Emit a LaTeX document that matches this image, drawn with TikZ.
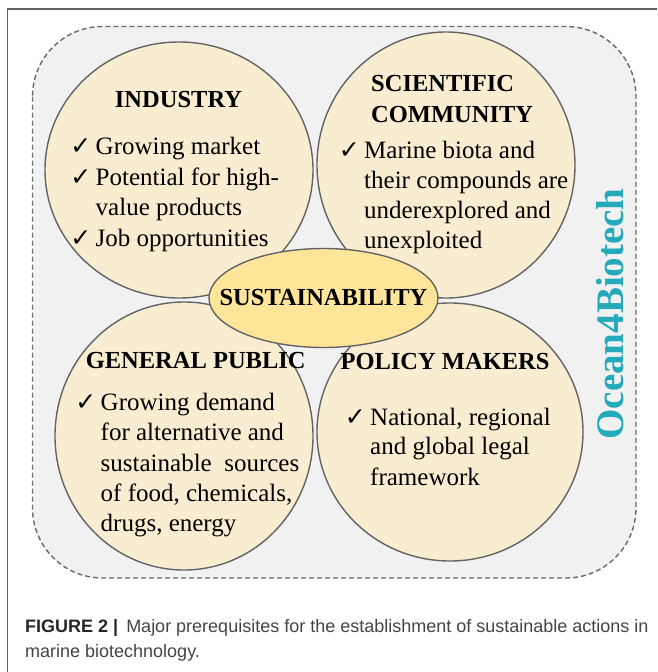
\documentclass[tikz,border=0pt]{standalone}
\usepackage{fontspec}
\setmainfont{Liberation Serif}
\newfontfamily\capfont{Liberation Sans}
\newfontfamily\tickfont{DejaVu Sans}
\usetikzlibrary{shapes.geometric}

\definecolor{cream}{RGB}{248,237,209}
\definecolor{gold}{RGB}{255,229,153}
\definecolor{edge}{RGB}{100,100,100}
\definecolor{panelfill}{RGB}{241,241,241}
\definecolor{paneldash}{RGB}{105,105,105}
\definecolor{oceanteal}{RGB}{36,170,186}
\definecolor{captext}{RGB}{68,68,68}

\tikzstyle{frame}=[draw=edge,line width=1.2pt]
\tikzstyle{panel}=[draw=paneldash,fill=panelfill,line width=1.4pt,
    dash pattern=on 5pt off 3pt,rounded corners=70pt]
\tikzstyle{party ellipse}=[ellipse,draw=edge,line width=1.4pt,
    fill=cream,inner sep=0pt]
\tikzstyle{core ellipse}=[party ellipse,fill=gold]
\tikzstyle{party title}=[font=\bfseries\fontsize{24.5}{30}\selectfont,
    inner sep=0pt,anchor=base]
\tikzstyle{party item}=[font=\fontsize{25}{30}\selectfont,
    inner sep=0pt,anchor=base west]
\tikzstyle{party tick}=[font=\tickfont\bfseries\fontsize{25}{25}\selectfont,
    inner sep=0pt,anchor=base east]
\tikzstyle{caption}=[font=\capfont\fontsize{18}{25}\selectfont,
    text=captext,inner sep=0pt,anchor=base west]

\newcommand{\party}[4]{
    \node[party ellipse,minimum width=#3pt,minimum height=#4pt] (#2) at (#1) {};
}
\newcommand{\tickitem}[3]{
    \node[party item] (#2) at (#1) {#3};
    \node[party tick] (#2-tick) at ([xshift=-4pt]#2.base west) {✓};
}

\begin{document}
\begin{tikzpicture}[x=1pt,y=-1pt]
    \useasboundingbox (0,0) rectangle (657,672);
    \draw[frame] (7.5,672) -- (7.5,9) -- (657,9);
    \draw[panel] (32.5,26.5) rectangle (636,578);
    %
    \party{179,170}{industry}{268}{256}
    \party{446,165}{science}{258}{266}
    \party{184,436}{public}{258}{268}
    \party{450,432}{policy}{266}{258}
    \node[core ellipse,minimum width=229pt,minimum height=99pt]
        (sustain) at (323.5,298) {};
    \node[party title,anchor=center] (sustain title) at (sustain.center) {SUSTAINABILITY};
    %
    \node[party title] (industry title) at (178.5,107) {INDUSTRY};
    \tickitem{95.5,154}{ind1}{Growing market}
    \tickitem{95.5,185}{ind2}{Potential for high-}
    \node[party item] (ind3) at (95.5,215.5) {value products};
    \tickitem{95.5,246}{ind4}{Job opportunities}
    %
    \node[party title,anchor=base west] (science title) at (371,91.5) {SCIENTIFIC};
    \node[party title,anchor=base west] (science title2) at (371,122.5) {COMMUNITY};
    \tickitem{364,158.3}{sci1}{Marine biota and}
    \node[party item] (sci2) at (364,188.3) {their compounds are};
    \node[party item] (sci3) at (364,218.3) {underexplored and};
    \node[party item] (sci4) at (364,248.3) {unexploited};
    %
    \node[party title] (public title) at (195.7,368) {GENERAL PUBLIC};
    \tickitem{100.5,410}{pub1}{Growing demand}
    \node[party item] (pub2) at (100.5,440.5) {for alternative and};
    \node[party item] (pub3) at (100.5,471) {sustainable\ \ sources};
    \node[party item] (pub4) at (100.5,501) {of food, chemicals,};
    \node[party item] (pub5) at (100.5,531.5) {drugs, energy};
    %
    \node[party title] (policy title) at (445,369.5) {POLICY MAKERS};
    \tickitem{370,425}{pol1}{National, regional}
    \node[party item] (pol2) at (370,454.5) {and global legal};
    \node[party item] (pol3) at (370,485) {framework};
    %
    \node[rotate=90,text=oceanteal,inner sep=0pt,
        font=\bfseries\fontsize{39}{39}\selectfont] (ocean) at (610,314) {Ocean4Biotech};
    %
    \node[caption] (caption1) at (25,632) {{\bfseries\color{black!85}FIGURE 2 |}\,
        Major prerequisites for the establishment of sustainable actions in};
    \node[caption] (caption2) at (25,657) {marine biotechnology.};
\end{tikzpicture}
\end{document}
